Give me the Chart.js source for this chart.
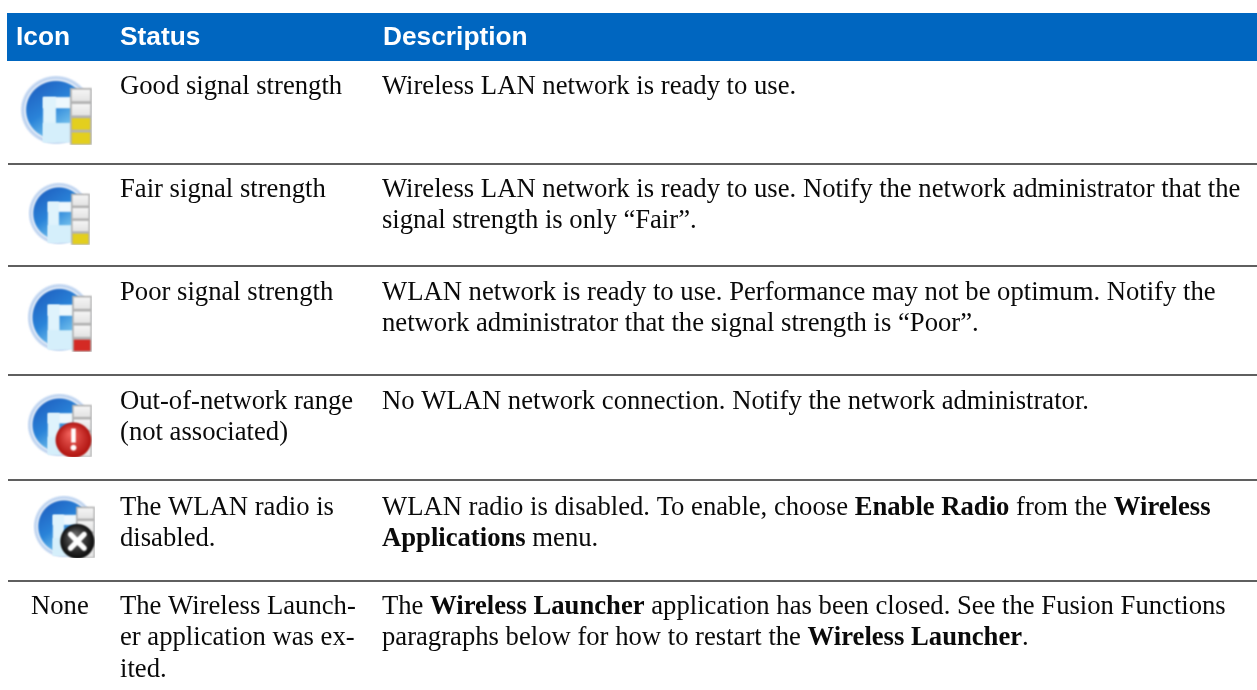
<!DOCTYPE html>
<html><head><meta charset="utf-8">
<style>html,body{margin:0;padding:0;background:#fff;overflow:hidden}canvas{display:block}</style>
<script src="https://cdn.jsdelivr.net/npm/chart.js@4"></script>
</head><body>
<canvas id="c" width="1257" height="690"></canvas>
<script>
const headers = ["Icon", "Status", "Description"];
const statusLines = [
  ["Good signal strength"],
  ["Fair signal strength"],
  ["Poor signal strength"],
  ["Out-of-network range", "(not associated)"],
  ["The WLAN radio is", "disabled."],
  ["The Wireless Launch-", "er application was ex-", "ited."]
];
const descriptionLines = [
  ["Wireless LAN network is ready to use."],
  ["Wireless LAN network is ready to use. Notify the network administrator that the", "signal strength is only “Fair”."],
  ["WLAN network is ready to use. Performance may not be optimum. Notify the", "network administrator that the signal strength is “Poor”."],
  ["No WLAN network connection. Notify the network administrator."],
  ["WLAN radio is disabled. To enable, choose **Enable Radio** from the **Wireless", "**Applications** menu."],
  ["The **Wireless Launcher** application has been closed. See the Fusion Functions", "paragraphs below for how to restart the **Wireless Launcher**."]
];
const noIconLabel = "None";
const rowBaselines = [93.5, 196.5, 299.5, 408.5, 514.5, 613.5];
const ruleRows = [164, 266, 375, 480, 581];
const iconCentersX = [56, 59, 59.5, 59.5, 64];
const iconCentersY = [110, 213.5, 317.5, 425, 526.5];
const iconWidths = [72, 62, 65, 65, 62];
const iconHeights = [70, 63, 69, 64, 63];
const iconFilled = [2, 1, 1, 0, 0];
const iconColors = ["#e3cf1e", "#e3cf1e", "#d42a24", "#e3cf1e", "#e3cf1e"];
const iconBadges = ["", "", "", "alert", "close"];

const LINE_H = 31.7, SERIF = '"Liberation Serif"', SANS = '"Liberation Sans"';

function makeIcon(w, h, filled, fillColor, badge) {
  const S = 4, cv = document.createElement('canvas');
  cv.width = w * S; cv.height = h * S;
  const g = cv.getContext('2d');
  g.scale(S * w / 200, S * h / 200);
  g.filter = `blur(${0.8 * S}px)`;
  // halo
  g.fillStyle = '#e4edf9';
  g.beginPath(); g.arc(100, 100, 98, 0, 7); g.fill();
  g.strokeStyle = '#bfd4f0'; g.lineWidth = 7;
  g.beginPath(); g.arc(100, 100, 92, 0, 7); g.stroke();
  // disc
  const d = g.createLinearGradient(10, 20, 130, 190);
  d.addColorStop(0, '#1c58bb'); d.addColorStop(.5, '#2a84d9'); d.addColorStop(1, '#9be2f8');
  g.fillStyle = d;
  g.beginPath(); g.arc(100, 100, 83, 0, 7); g.fill();
  // F glyph
  g.fillStyle = '#eef8fd';
  g.fillRect(64, 63, 80, 32);
  g.fillStyle = '#dff3fc';
  g.fillRect(64, 63, 36, 128);
  g.fillStyle = '#d5effb';
  g.fillRect(64, 137, 80, 56);
  // signal stack
  const x0 = 139, x1 = 200, y0 = 37, y1 = 200, ch = (y1 - y0) / 4;
  g.fillStyle = '#b4b4b4';
  g.fillRect(x0, y0, x1 - x0, y1 - y0);
  for (let i = 0; i < 4; i++) {
    const y = y0 + i * ch, on = i >= 4 - filled;
    const c = g.createLinearGradient(0, y, 0, y + ch);
    if (on) { c.addColorStop(0, fillColor); c.addColorStop(1, fillColor); }
    else { c.addColorStop(0, '#f8f8f8'); c.addColorStop(1, '#e2e2e2'); }
    g.fillStyle = c;
    g.fillRect(x0 + 5, y + 5, x1 - x0 - 10, ch - 8);
  }
  if (badge) {
    const bx = 143, by = 147, br = 55;
    const r = g.createRadialGradient(bx - 10, by - 20, 4, bx, by, br);
    if (badge === 'alert') { r.addColorStop(0, '#f0605a'); r.addColorStop(1, '#b01410'); }
    else { r.addColorStop(0, '#6a6a6a'); r.addColorStop(1, '#0c0c0c'); }
    g.fillStyle = r;
    g.beginPath(); g.arc(bx, by, br, 0, 7); g.fill();
    g.fillStyle = g.strokeStyle = '#fff';
    if (badge === 'alert') {
      g.fillRect(bx - 7, by - 36, 14, 44);
      g.beginPath(); g.arc(bx, by + 24, 9, 0, 7); g.fill();
    } else {
      g.lineWidth = 17; g.lineCap = 'round';
      g.beginPath();
      g.moveTo(bx - 22, by - 22); g.lineTo(bx + 22, by + 22);
      g.moveTo(bx + 22, by - 22); g.lineTo(bx - 22, by + 22);
      g.stroke();
    }
  }
  const out = document.createElement('canvas');
  out.width = w; out.height = h;
  const o = out.getContext('2d');
  o.imageSmoothingQuality = 'high';
  o.drawImage(cv, 0, 0, w, h);
  return out;
}

const iconImages = iconWidths.map((w, i) =>
  makeIcon(w, iconHeights[i], iconFilled[i], iconColors[i], iconBadges[i]));

function drawRich(ctx, text, x, y, size) {
  text.split('**').forEach((seg, i) => {
    ctx.font = `${i % 2 ? 'bold ' : ''}${size}px ${SERIF}`;
    ctx.fillText(seg, x, y);
    x += ctx.measureText(seg).width;
  });
}

const tablePlugin = {
  id: 'tableText',
  beforeDatasetsDraw(chart) {
    const { ctx, scales: { x, y } } = chart;
    ctx.save();
    ctx.fillStyle = '#0066c0';
    ctx.fillRect(x.getPixelForValue(7), y.getPixelForValue(13), x.getPixelForValue(1257) - x.getPixelForValue(7), y.getPixelForValue(61) - y.getPixelForValue(13));
    ctx.restore();
  },
  afterDatasetsDraw(chart) {
    const { ctx, scales: { x, y } } = chart;
    ctx.save();
    ctx.textBaseline = 'alphabetic';
    ctx.textAlign = 'left';
    ctx.fillStyle = '#fff';
    ctx.font = `bold 26.3px ${SANS}`;
    const hx = [16, 120, 383];
    headers.forEach((h, i) => ctx.fillText(h, x.getPixelForValue(hx[i]), y.getPixelForValue(45)));
    ctx.fillStyle = '#0a0a0a';
    statusLines.forEach((lines, r) => lines.forEach((t, k) =>
      drawRich(ctx, t, x.getPixelForValue(120), y.getPixelForValue(rowBaselines[r] + k * LINE_H), 26.67)));
    descriptionLines.forEach((lines, r) => lines.forEach((t, k) =>
      drawRich(ctx, t, x.getPixelForValue(382), y.getPixelForValue(rowBaselines[r] + k * LINE_H), 26.67)));
    drawRich(ctx, noIconLabel, x.getPixelForValue(31), y.getPixelForValue(rowBaselines[5]), 26.67);
    ctx.restore();
  }
};

new Chart(document.getElementById('c'), {
  type: 'scatter',
  plugins: [tablePlugin],
  data: {
    datasets: [
      {
        label: 'Icons',
        data: iconCentersX.map((v, i) => ({ x: v, y: iconCentersY[i] })),
        pointStyle: iconImages,
        pointRadius: 30,
        showLine: false,
        clip: false
      },
      ...ruleRows.map((r, i) => ({
        label: 'Rule ' + i,
        type: 'line',
        data: [{ x: 8, y: r }, { x: 1257, y: r }],
        borderColor: '#2a2a2a',
        borderWidth: 1.4,
        pointRadius: 0,
        fill: false
      }))
    ]
  },
  options: {
    responsive: false,
    animation: false,
    devicePixelRatio: 1,
    layout: { padding: 0, autoPadding: false },
    plugins: { legend: { display: false }, tooltip: { enabled: false } },
    events: [],
    scales: {
      x: { type: 'linear', display: false, min: 0, max: 1257 },
      y: { type: 'linear', display: false, min: 0, max: 690, reverse: true }
    }
  }
});
</script>
</body></html>
